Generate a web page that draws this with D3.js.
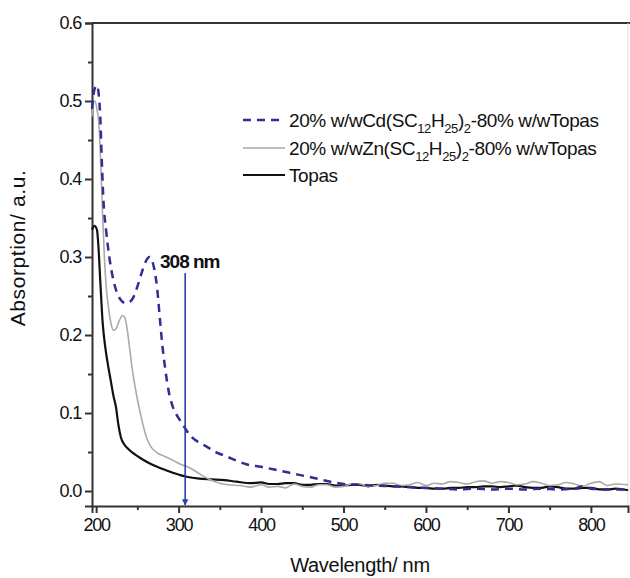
<!DOCTYPE html>
<html>
<head>
<meta charset="utf-8">
<script src="https://cdn.jsdelivr.net/npm/d3@7"></script>
<style>
  body { margin: 0; background: #fff; }
  text { font-family: "Liberation Sans", Arial, sans-serif; fill: #111; }
</style>
</head>
<body>
<div id="chart"></div>
<script>
// wavelengths (nm) and absorption values
const wlCd = [195,198,201,203,205,207,209,212,216,220,225,230,235,240,245,250,255,260,265,268,271,274,277,280,284,288,293,298,304,310,316,325,334,345,359,370,383,400,423,445,463,484,500,520,540,560,580,600,620,640,660,680,700,720,740,760,780,790,800,820,845];
const absCd = [0.49,0.515,0.52,0.51,0.48,0.42,0.37,0.335,0.30,0.275,0.255,0.245,0.241,0.242,0.248,0.262,0.279,0.294,0.300,0.295,0.282,0.26,0.225,0.19,0.155,0.128,0.108,0.097,0.087,0.077,0.069,0.062,0.057,0.050,0.044,0.039,0.034,0.031,0.026,0.021,0.017,0.012,0.009,0.008,0.007,0.006,0.005,0.004,0.003,0.002,0.003,0.002,0.003,0.002,0.003,0.002,0.003,0.006,0.003,0.002,0.002];

const wlZn = [195,198,201,204,206,208,210,212,215,218,221,224,228,232,235,238,241,244,247,250,254,258,262,267,274,284,294,303,311,318,327,337,347,360,375,387,400,410,420,430,440,450,460,470,480,490,500,510,520,530,540,550,560,570,580,590,600,610,620,630,640,650,660,670,680,690,700,710,720,730,740,750,760,770,780,790,800,810,820,830,845];
const absZn = [0.48,0.50,0.49,0.46,0.41,0.35,0.30,0.265,0.235,0.215,0.206,0.208,0.218,0.225,0.222,0.205,0.18,0.155,0.135,0.118,0.098,0.08,0.066,0.056,0.049,0.044,0.039,0.034,0.031,0.027,0.021,0.015,0.011,0.008,0.007,0.005,0.008,0.005,0.006,0.004,0.009,0.006,0.005,0.008,0.008,0.005,0.006,0.009,0.009,0.006,0.007,0.010,0.010,0.007,0.008,0.011,0.007,0.010,0.009,0.012,0.011,0.009,0.012,0.013,0.010,0.012,0.011,0.008,0.009,0.012,0.010,0.007,0.008,0.011,0.009,0.006,0.010,0.012,0.007,0.009,0.008];

const wlTopas = [195,198,201,203,205,208,211,214,218,221,224,227,230,234,240,247,254,264,274,284,294,303,311,325,340,355,370,387,400,410,420,430,440,450,460,470,480,490,500,510,520,530,540,550,560,570,580,590,600,610,620,630,640,650,660,670,680,690,700,710,720,730,740,750,760,770,780,790,800,810,820,830,845];
const absTopas = [0.335,0.34,0.335,0.31,0.27,0.215,0.185,0.164,0.14,0.122,0.108,0.085,0.069,0.060,0.053,0.047,0.042,0.036,0.031,0.027,0.023,0.020,0.018,0.016,0.015,0.014,0.012,0.010,0.011,0.009,0.009,0.010,0.010,0.008,0.008,0.009,0.009,0.007,0.007,0.008,0.008,0.006,0.008,0.007,0.006,0.006,0.005,0.004,0.004,0.003,0.003,0.004,0.004,0.005,0.005,0.006,0.006,0.005,0.006,0.007,0.005,0.004,0.004,0.006,0.005,0.003,0.003,0.004,0.004,0.002,0.002,0.003,0.001];

const xTicks = [200,300,400,500,600,700,800];
const yTicks = [0.0,0.1,0.2,0.3,0.4,0.5,0.6];
const markerNm = 308;

const width = 630, height = 578;
const margin = { top: 23, right: 2, bottom: 72, left: 92 };

const svg = d3.select("#chart").append("svg")
  .attr("width", width)
  .attr("height", height);

const x = d3.scaleLinear().domain([195, 845]).range([margin.left, width - margin.right]);
const y = d3.scaleLinear().domain([-0.0192, 0.6]).range([height - margin.bottom, margin.top]);

// frame: top line and faint right border
svg.append("line")
  .attr("x1", margin.left).attr("x2", width)
  .attr("y1", y(0.6)).attr("y2", y(0.6))
  .attr("stroke", "#333").attr("stroke-width", 2);
svg.append("line")
  .attr("x1", width - margin.right).attr("x2", width - margin.right)
  .attr("y1", y(0.6)).attr("y2", height - margin.bottom)
  .attr("stroke", "#ddd").attr("stroke-width", 1);

// axes
svg.append("g")
  .attr("transform", "translate(0," + (height - margin.bottom) + ")")
  .call(d3.axisBottom(x).tickValues(xTicks).tickFormat(d3.format("d")).tickSizeOuter(0).tickSize(7).tickPadding(5));
svg.append("g")
  .attr("transform", "translate(0," + (height - margin.bottom) + ")")
  .call(d3.axisBottom(x).tickValues([250,350,450,550,650,750,850]).tickFormat("").tickSizeOuter(0).tickSize(4))
  .call(g => g.select(".domain").remove());

svg.append("g")
  .attr("transform", "translate(" + margin.left + ",0)")
  .call(d3.axisLeft(y).tickValues(yTicks).tickFormat(d3.format(".1f")).tickSizeOuter(0).tickSize(7).tickPadding(4));
svg.append("g")
  .attr("transform", "translate(" + margin.left + ",0)")
  .call(d3.axisLeft(y).tickValues([0.05,0.15,0.25,0.35,0.45,0.55]).tickFormat("").tickSizeOuter(0).tickSize(4))
  .call(g => g.select(".domain").remove());

svg.selectAll(".domain").attr("stroke", "#333").attr("stroke-width", 2);
svg.selectAll(".tick line").attr("stroke", "#333").attr("stroke-width", 2);
svg.selectAll(".tick text")
  .attr("font-size", 18)
  .attr("letter-spacing", -1.2)
  .attr("fill", "#111");

// axis titles
svg.append("text")
  .attr("x", (margin.left + width - margin.right) / 2)
  .attr("y", 572)
  .attr("text-anchor", "middle")
  .attr("font-size", 20)
  .attr("letter-spacing", -0.3)
  .text("Wavelength/ nm");

svg.append("text")
  .attr("transform", "translate(25,248) rotate(-90)")
  .attr("text-anchor", "middle")
  .attr("font-size", 21)
  .attr("letter-spacing", 0.6)
  .text("Absorption/ a.u.");

// series
const series = [
  { wl: wlTopas, abs: absTopas, color: "#111", width: 2.2, dash: null },
  { wl: wlZn, abs: absZn, color: "#aaa", width: 1.6, dash: null },
  { wl: wlCd, abs: absCd, color: "#2e2e94", width: 2.5, dash: "8,6" }
];

const line = d3.line()
  .x(d => x(d[0]))
  .y(d => y(d[1]))
  .curve(d3.curveMonotoneX);

series.forEach(s => {
  svg.append("path")
    .datum(s.wl.map((w, i) => [w, s.abs[i]]))
    .attr("fill", "none")
    .attr("stroke", s.color)
    .attr("stroke-width", s.width)
    .attr("stroke-dasharray", s.dash)
    .attr("stroke-linejoin", "round")
    .attr("d", line);
});

// 308 nm marker
svg.append("defs").append("marker")
  .attr("id", "arrow")
  .attr("viewBox", "0 0 10 10")
  .attr("refX", 9).attr("refY", 5)
  .attr("markerWidth", 4).attr("markerHeight", 6)
  .attr("orient", "auto")
  .append("path")
  .attr("d", "M0,0 L10,5 L0,10 z")
  .attr("fill", "#2e3fa8");

svg.append("line")
  .attr("x1", x(markerNm)).attr("x2", x(markerNm))
  .attr("y1", 273).attr("y2", height - margin.bottom - 1)
  .attr("stroke", "#2e3fa8")
  .attr("stroke-width", 1.6)
  .attr("marker-end", "url(#arrow)");

svg.append("text")
  .attr("x", 160).attr("y", 268)
  .attr("font-size", 19)
  .attr("font-weight", "bold")
  .attr("letter-spacing", -1)
  .text(markerNm + " nm");

// legend
const legend = svg.append("g");
const legendRows = [
  { color: "#2e2e94", width: 2.5, dash: "8,6", metal: "Cd", y: 120 },
  { color: "#aaa", width: 1.6, dash: null, metal: "Zn", y: 148 },
  { color: "#111", width: 2.2, dash: null, metal: null, y: 175 }
];

legendRows.forEach(r => {
  legend.append("line")
    .attr("x1", 243).attr("x2", 285)
    .attr("y1", r.y).attr("y2", r.y)
    .attr("stroke", r.color)
    .attr("stroke-width", r.width)
    .attr("stroke-dasharray", r.dash);
  const t = legend.append("text")
    .attr("x", 289).attr("y", r.y + 7)
    .attr("font-size", 19)
    .attr("letter-spacing", -0.4);
  if (r.metal) {
    t.append("tspan").text("20% w/w" + r.metal + "(SC");
    t.append("tspan").attr("font-size", 13).attr("dy", 6).text("12");
    t.append("tspan").attr("dy", -6).text("H");
    t.append("tspan").attr("font-size", 13).attr("dy", 6).text("25");
    t.append("tspan").attr("dy", -6).text(")");
    t.append("tspan").attr("font-size", 13).attr("dy", 6).text("2");
    t.append("tspan").attr("dy", -6).text("-80% w/wTopas");
  } else {
    t.text("Topas");
  }
});
</script>
</body>
</html>
